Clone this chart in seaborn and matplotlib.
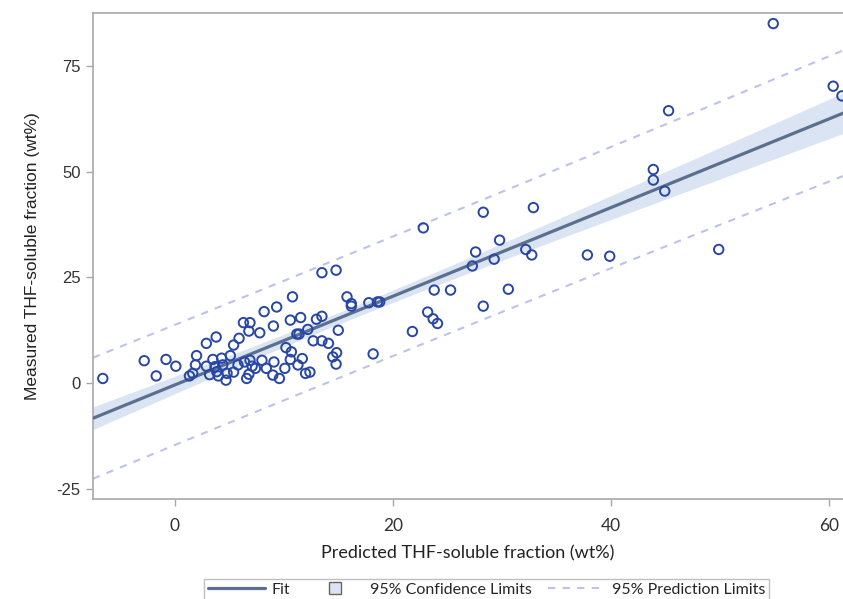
import numpy as np
import pandas as pd
import matplotlib.pyplot as plt
from matplotlib.lines import Line2D
import seaborn as sns

# predicted vs measured THF-soluble fraction (wt%)
pred = [-6.6, -2.8, -1.7, -0.8, 0.1, 1.35, 1.65, 1.9, 2.0, 2.9,
        3.8, 2.9, 3.2, 3.5, 3.7, 3.85, 4.0, 4.3, 4.4, 4.7,
        4.8, 5.1, 5.4, 5.4, 5.9, 5.8, 6.3, 6.9, 6.8, 6.4,
        6.6, 6.8, 7.1, 6.9, 7.4, 7.8, 8.0, 8.2, 8.4, 9.05,
        9.1, 9.0, 9.35, 9.6, 10.1, 10.2, 10.6, 10.6, 10.8, 10.7,
        11.3, 11.4, 11.55, 11.7, 12.0, 12.2, 12.7, 13.0, 13.5, 13.5,
        13.5, 14.1, 15.0, 14.85, 14.8, 14.5, 15.8, 16.2, 16.2, 17.8,
        18.6, 18.8, 18.2, 21.8, 22.8, 23.2, 23.7, 24.1, 23.8, 25.3,
        27.3, 27.6, 28.3, 28.3, 29.3, 29.8, 30.6, 32.9, 32.2, 32.75,
        37.85, 39.9, 45.3, 43.9, 43.9, 44.95, 49.9, 60.4, 61.2, 54.9,
        11.2, 12.4, 14.8]
meas = [1.1, 5.3, 1.7, 5.6, 4.0, 1.7, 2.3, 4.3, 6.5, 9.4,
        10.9, 4.0, 2.0, 5.6, 3.9, 2.7, 1.7, 5.9, 4.3, 0.7,
        2.3, 6.5, 9.0, 2.6, 10.6, 4.3, 14.3, 14.3, 12.3, 5.0,
        1.1, 2.1, 4.0, 5.4, 3.5, 11.9, 5.4, 16.9, 3.5, 13.5,
        5.0, 1.9, 18.0, 1.1, 3.5, 8.4, 14.9, 5.6, 20.4, 7.4,
        4.3, 11.6, 15.5, 5.8, 2.3, 12.7, 10.0, 15.1, 15.8, 10.0,
        26.1, 9.4, 12.5, 7.2, 26.7, 6.2, 20.4, 18.8, 18.2, 19.0,
        19.2, 19.2, 6.9, 12.2, 36.7, 16.8, 15.2, 14.1, 22.0, 22.0,
        27.7, 31.0, 40.4, 18.2, 29.3, 33.8, 22.2, 41.5, 31.6, 30.3,
        30.3, 30.0, 64.4, 50.5, 48.0, 45.4, 31.6, 70.2, 67.9, 85.0,
        11.6, 2.6, 4.5]

df = pd.DataFrame({'pred': pred, 'meas': meas})

# ordinary least squares fit with 95% confidence / prediction limits
x = df['pred'].values
y = df['meas'].values
n = len(x)
b1, b0 = np.polyfit(x, y, 1)
s = np.sqrt(np.sum((y - (b0 + b1 * x)) ** 2) / (n - 2))
sxx = np.sum((x - x.mean()) ** 2)
t95 = 1.984
xs = np.linspace(-7.5, 61.3, 200)
fit = b0 + b1 * xs
se_mean = s * np.sqrt(1 / n + (xs - x.mean()) ** 2 / sxx)
se_pred = s * np.sqrt(1 + 1 / n + (xs - x.mean()) ** 2 / sxx)

sns.set_style('ticks')
plt.rcParams['font.family'] = ['Liberation Sans', 'DejaVu Sans']

fig = plt.figure(figsize=(8.43, 5.99), dpi=100)
ax = fig.add_axes([0.1103, 0.1669, 0.8897, 0.8114])

band_c = '#dae4f2'
fit_c = '#5b6f8e'
pl_c = '#bcc3e8'
pt_c = '#2846a6'

ax.fill_between(xs, fit - t95 * se_mean, fit + t95 * se_mean, color=band_c, lw=0, zorder=1)
ax.plot(xs, fit + t95 * se_pred, color=pl_c, lw=1.5, ls=(0, (3.5, 3.5)), zorder=2)
ax.plot(xs, fit - t95 * se_pred, color=pl_c, lw=1.5, ls=(0, (3.5, 3.5)), zorder=2)
sns.lineplot(x=xs, y=fit, color=fit_c, lw=2.3, ax=ax, zorder=3)
sns.scatterplot(data=df, x='pred', y='meas', marker='o', s=46, color=pt_c,
                facecolor='none', edgecolor=pt_c, linewidth=1.4, ax=ax, zorder=4)

ax.set_xlim(-7.5, 61.3)
ax.set_ylim(-27.4, 87.5)
ax.set_xticks([0, 20, 40, 60])
ax.set_yticks([-25, 0, 25, 50, 75])
ax.set_yticklabels(['-25', '0', '25', '50', '75'])

for sp in ['left', 'bottom', 'top']:
    ax.spines[sp].set_color('#a8a8a8')
    ax.spines[sp].set_linewidth(1.2)
ax.spines['right'].set_visible(False)
ax.tick_params(axis='both', length=5, width=1, color='#a8a8a8', labelcolor='#333333')
ax.tick_params(axis='y', labelsize=12, pad=4)
ax.tick_params(axis='x', labelsize=12.5, pad=9)
for lab in ax.get_xticklabels():
    lab.set_family('Lato')

ax.set_xlabel('Predicted THF-soluble fraction (wt%)', fontsize=13, family='Lato',
              color='#222222', labelpad=8)
ax.set_ylabel('Measured THF-soluble fraction (wt%)', fontsize=12.5, color='#222222',
              labelpad=12)

handles = [
    Line2D([], [], color=fit_c, lw=2.3),
    Line2D([], [], ls='none', marker='s', markersize=9, markerfacecolor=band_c,
           markeredgecolor='#666666', markeredgewidth=1),
    Line2D([], [], color=pl_c, lw=1.5, ls=(0, (3.5, 3.5))),
]
labels = ['Fit', '95% Confidence Limits', '95% Prediction Limits']
leg = fig.legend(handles, labels, loc='upper center', bbox_to_anchor=(0.577, 0.034),
                 borderaxespad=0, ncol=3, frameon=True, fancybox=False, handlelength=3.6,
                 columnspacing=1.0, handletextpad=0.4, borderpad=0.25,
                 prop={'family': 'Lato', 'size': 11.5})
leg.get_frame().set_edgecolor('#b0b0b0')
leg.get_frame().set_linewidth(1)

fig.savefig('out.png', dpi=100)
